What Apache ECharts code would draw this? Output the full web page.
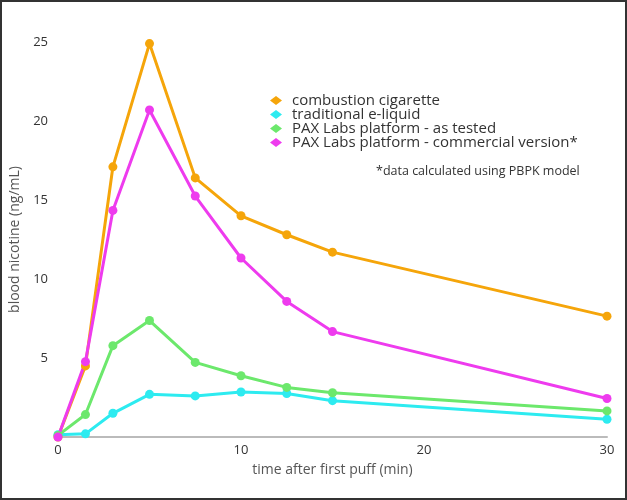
<!DOCTYPE html>
<html><head><meta charset="utf-8">
<script src="https://cdn.jsdelivr.net/npm/echarts@6/dist/echarts.min.js"></script>
<style>html,body{margin:0;padding:0;background:#fff}#c{width:623px;height:496px;border:2px solid #333;}</style>
</head><body><div id="c"></div>
<script>
const times = [0, 1.5, 3, 5, 7.5, 10, 12.5, 15, 30];
const combustion = [0, 4.5, 17.1, 24.9, 16.4, 14.0, 12.8, 11.7, 7.65];
const eliquid = [0.15, 0.2, 1.5, 2.7, 2.6, 2.85, 2.75, 2.3, 1.12];
const paxTested = [0.1, 1.42, 5.78, 7.37, 4.72, 3.88, 3.14, 2.8, 1.65];
const paxCommercial = [0, 4.77, 14.34, 20.7, 15.25, 11.33, 8.58, 6.67, 2.44];
const seriesNames = ['combustion cigarette', 'traditional e-liquid', 'PAX Labs platform - as tested', 'PAX Labs platform - commercial version*'];
const colors = ['#F5A50A', '#2DEBF0', '#6CE86C', '#EE3BEE'];
const xTicks = [0, 10, 20, 30];
const yTicks = [5, 10, 15, 20, 25];

const font = '"Open Sans", Lato, sans-serif';
const chart = echarts.init(document.getElementById('c'));
const all = [combustion, eliquid, paxTested, paxCommercial];
chart.setOption({
  animation: false,
  grid: {left: 56, right: 18, top: 40, bottom: 61, containLabel: false, outerBoundsMode: 'none'},
  legend: {
    orient: 'vertical', left: 263, top: 86, itemGap: -1,
    icon: 'diamond', itemWidth: 12, itemHeight: 9,
    textStyle: {fontFamily: font, fontSize: 15, color: '#333', lineHeight: 14.5, padding: [0, 0, 0, 5]},
    data: seriesNames
  },
  graphic: [{
    type: 'text', left: 374, top: 163,
    style: {text: '*data calculated using PBPK model', font: '12.5px ' + font, fill: '#333'}
  }],
  xAxis: {
    type: 'value', min: 0, max: 30, interval: 10,
    name: 'time after first puff (min)', nameLocation: 'middle', nameGap: 26,
    nameTextStyle: {fontFamily: font, fontSize: 14, color: '#555'},
    axisLine: {lineStyle: {color: '#bbb', width: 2}},
    axisTick: {show: false}, splitLine: {show: false},
    axisLabel: {fontFamily: font, fontSize: 13, color: '#333', margin: 7,
      formatter: v => xTicks.includes(v) ? String(v) : ''}
  },
  yAxis: {
    type: 'value', min: 0, max: 25, interval: 5,
    name: 'blood nicotine (ng/mL)', nameLocation: 'middle', nameGap: 27,
    nameTextStyle: {fontFamily: font, fontSize: 14, color: '#555'},
    axisLine: {show: false}, axisTick: {show: false}, splitLine: {show: false},
    axisLabel: {fontFamily: font, fontSize: 13, color: '#333', margin: 10,
      formatter: v => yTicks.includes(v) ? String(v) : ''}
  },
  series: all.map((d, i) => ({
    name: seriesNames[i], type: 'line', z: i === 1 ? 2 : 3,
    data: times.map((t, j) => [t, d[j]]),
    color: colors[i], symbol: 'circle', symbolSize: 9,
    lineStyle: {width: 3}, itemStyle: {color: colors[i]}
  }))
});
</script></body></html>
